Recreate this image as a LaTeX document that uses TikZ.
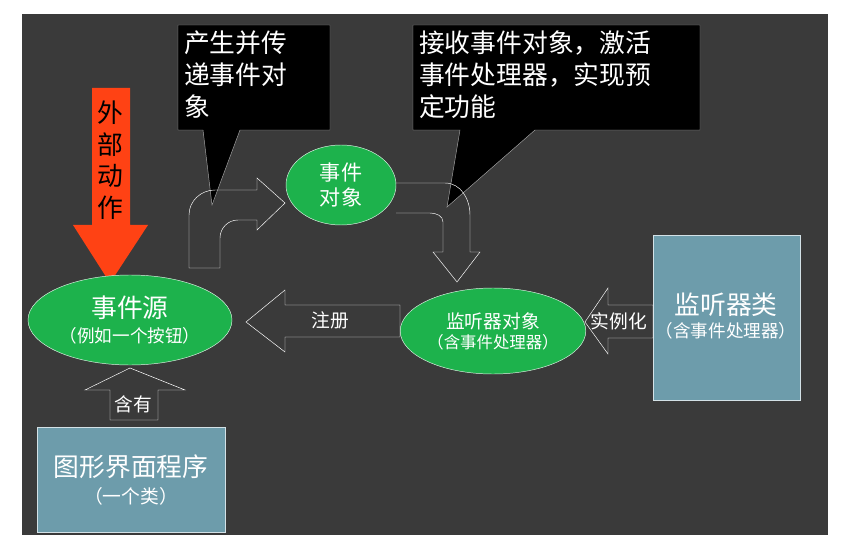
\documentclass[tikz,border=0pt]{standalone}
\usepackage{fontspec}
\setmainfont{Noto Sans CJK SC}
\usetikzlibrary{shapes.geometric}
\definecolor{panel}{HTML}{3A3A3A}
\definecolor{evgreen}{HTML}{1DB24C}
\definecolor{boxblue}{HTML}{6D9CAB}
\definecolor{actred}{HTML}{FF4214}
\tikzset{
    x=0.03cm, y=-0.03cm,
    green world/.style={ellipse,fill=evgreen,draw=white!85!evgreen,thin,text=white,align=center,inner sep=0pt},
    class box/.style={fill=boxblue,draw=white!70!boxblue,text=white,align=center},
    callout/.style={fill=black,draw=gray!70,thin},
    hollow arrow/.style={draw=white,thin},
    bigfont/.style={font=\fontsize{22}{27}\selectfont},
    midfont/.style={font=\fontsize{16}{20}\selectfont}
}
\begin{document}
\begin{tikzpicture}
    \useasboundingbox (0,0) rectangle (853,544);
    \fill[white] (0,0) rectangle (853,544);
    \fill[panel] (22,14) rectangle (828,535);
    % callouts
    \draw[callout] (178,25) -- (330,25) -- (330,130) -- (240,130) -- (212,205) -- (203,130) -- (178,130) -- cycle;
    \node[bigfont,text=white,align=left,anchor=north west] (c1) at (180,27) {产生并传\\递事件对\\象};
    \draw[callout] (413,25) -- (700,25) -- (700,130) -- (535,130) -- (447,207) -- (460,130) -- (413,130) -- cycle;
    \node[bigfont,text=white,align=left,anchor=north west] (c2) at (415,27) {接收事件对象，激活\\事件处理器，实现预\\定功能};
    % red action arrow
    \fill[actred] (92,88) -- (130,88) -- (130,225) -- (148,225) -- (110,283) -- (73,225) -- (92,225) -- cycle;
    \node[bigfont,text=black,align=center] (act) at (110,160) {外\\部\\动\\作};
    % nodes
    \node[green world,minimum width=6.12cm,minimum height=2.7cm] (src) at (130,320) {\fontsize{22}{26}\selectfont 事件源\\[5pt]\fontsize{15}{18}\selectfont （例如一个按钮）};
    \node[green world,minimum width=3.3cm,minimum height=2.4cm] (obj) at (341,185) {\fontsize{18}{22}\selectfont 事件\\[4pt]\fontsize{18}{22}\selectfont 对象};
    \node[green world,minimum width=5.28cm,minimum height=2.58cm] (lsn) at (493,331) {\fontsize{16}{20}\selectfont 监听器对象\\[3pt]\fontsize{14}{18}\selectfont （含事件处理器）};
    \node[class box,minimum width=5.64cm,minimum height=3.15cm] (gui) at (131,480) {\fontsize{22}{26}\selectfont 图形界面程序\\[6pt]\fontsize{16}{20}\selectfont （一个类）};
    \node[class box,minimum width=4.41cm,minimum height=4.95cm] (cls) at (726.5,317.5) {};
    % hollow arrows
    \draw[hollow arrow] (246,322) -- (285,290) -- (285,305) -- (400,305) -- (400,337) -- (285,337) -- (285,352) -- cycle;
    \node[midfont,text=white] (reg) at (330,320) {注册};
    \draw[hollow arrow] (585,322) -- (608,288) -- (608,305) -- (653,305) -- (653,338) -- (608,338) -- (608,354) -- cycle;
    \node[midfont,text=white] (inst) at (619,321) {实例化};
    \node[text=white,align=center] (clstext) at (726,316) {\fontsize{22}{26}\selectfont 监听器类\\[4pt]\fontsize{15}{18}\selectfont （含事件处理器）};
    \draw[hollow arrow] (130,368) -- (185,390) -- (158,390) -- (158,420) -- (110,420) -- (110,390) -- (85,390) -- cycle;
    \node[midfont,text=white] (has) at (133,404) {含有};
    % bent arrows
    \draw[hollow arrow] (189,268) -- (189,215) to[out=90,in=180] (215,190) -- (257,190) -- (257,178) -- (285,203) -- (257,230) -- (257,220) -- (238,220) to[out=180,in=90] (220,238) -- (220,268) -- cycle;
    \draw[hollow arrow] (396,183) -- (445,183) to[out=0,in=90] (470,215) -- (470,252) -- (480,252) -- (457,282) -- (433,252) -- (443,252) -- (443,222) to[out=90,in=0] (430,213) -- (396,213);
\end{tikzpicture}
\end{document}
